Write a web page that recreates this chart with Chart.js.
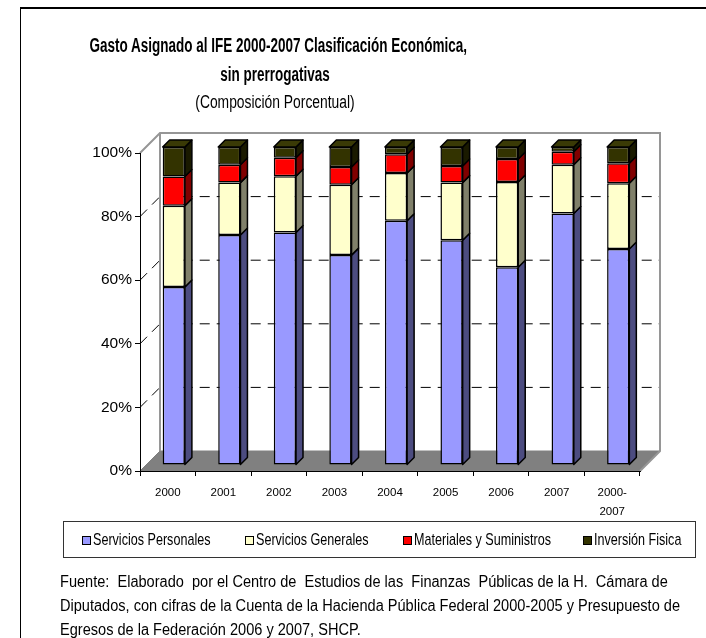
<!DOCTYPE html>
<html>
<head>
<meta charset="utf-8">
<script src="https://cdn.jsdelivr.net/npm/chart.js@4.4.0/dist/chart.umd.min.js"></script>
<style>
  body { margin: 0; background: #fff; }
  #wrap { position: relative; width: 706px; height: 638px; overflow: hidden; font-family: "Liberation Sans", Arial, sans-serif; color: #000; }
  #frame { position: absolute; left: 20px; top: 7px; width: 700px; height: 700px; border-left: 1.5px solid #000; border-top: 2px solid #000; }
  canvas { position: absolute; left: 0; top: 0; }
  .t { position: absolute; left: 0; width: 550px; text-align: center; white-space: nowrap; transform-origin: 275px 0; }
  #legend { position: absolute; left: 63px; top: 521px; width: 631px; height: 35px; border: 1px solid #333; }
  .item { position: absolute; top: 8px; font-size: 17px; line-height: 19px; white-space: nowrap; }
  .item i { position: absolute; left: 0; top: 6px; width: 7px; height: 7px; border: 1px solid #000; }
  .item span { position: absolute; left: 11px; top: 0; transform: scaleX(0.74); transform-origin: 0 0; }
  .note { position: absolute; left: 60px; font-size: 16px; line-height: 18px; white-space: pre; transform: scaleX(0.91); transform-origin: 0 0; }
</style>
</head>
<body>
<div id="wrap">
  <div id="frame"></div>
  <canvas id="chart" width="706" height="638"></canvas>
  <div class="t" style="top:34px;font-size:20px;font-weight:bold;transform:scaleX(0.675)">Gasto Asignado al IFE 2000-2007 Clasificación Económica,</div>
  <div class="t" style="top:63px;font-size:20px;font-weight:bold;transform:scaleX(0.675)">sin prerrogativas</div>
  <div class="t" style="top:92px;font-size:18px;transform:scaleX(0.77)">(Composición Porcentual)</div>
  <div id="legend"></div>
  <div class="note" style="top:573px">Fuente:  Elaborado  por el Centro de  Estudios de las  Finanzas  Públicas de la H.  Cámara de</div>
  <div class="note" style="top:597px">Diputados, con cifras de la Cuenta de la Hacienda Pública Federal 2000-2005 y Presupuesto de</div>
  <div class="note" style="top:621px">Egresos de la Federación 2006 y 2007, SHCP.</div>
</div>
<script>
const years = ["2000", "2001", "2002", "2003", "2004", "2005", "2006", "2007", ["2000-", "2007"]];
const seriesNames = ["Servicios Personales", "Servicios Generales", "Materiales y Suministros", "Inversión Fisica"];
const serviciosPersonales = [56.0, 72.3, 73.1, 66.0, 76.8, 70.7, 62.2, 79.1, 67.9];
const serviciosGenerales = [25.5, 16.5, 17.7, 22.1, 15.0, 18.1, 26.8, 15.3, 20.7];
const materiales = [9.2, 5.6, 5.8, 5.6, 5.9, 5.2, 7.2, 4.1, 6.3];
const inversion = [9.3, 5.6, 3.4, 6.3, 2.3, 6.0, 3.8, 1.5, 5.1];
const yTicks = [0, 20, 40, 60, 80, 100];

const frontColors = ["#9999ff", "#ffffcc", "#ff0000", "#333300"];
const sideColors = ["#4c4c80", "#80806a", "#800000", "#1a1a00"];
const topColor = "#3a3a06";

const WALL = 20;   // depth of the back wall
const BAR_OFF = 6; // front face of bars
const BAR_D = 7;   // bar depth

// legend in html
const legendX = [18, 181, 339, 519];
const legend = document.getElementById("legend");
seriesNames.forEach((name, i) => {
  const d = document.createElement("div");
  d.className = "item";
  d.style.left = legendX[i] + "px";
  d.innerHTML = '<i style="background:' + frontColors[i] + '"></i><span>' + name + '</span>';
  legend.appendChild(d);
});

const poly = (ctx, pts, fill) => {
  ctx.beginPath();
  ctx.moveTo(pts[0][0], pts[0][1]);
  for (let i = 1; i < pts.length; i++) ctx.lineTo(pts[i][0], pts[i][1]);
  ctx.closePath();
  if (fill) { ctx.fillStyle = fill; ctx.fill(); }
  ctx.stroke();
};

const walls3d = {
  id: "walls3d",
  beforeDraw(chart) {
    const { ctx, chartArea: a, scales } = chart;
    const y = scales.y;
    ctx.save();
    // floor
    ctx.strokeStyle = "#808080";
    ctx.lineWidth = 1;
    poly(ctx, [[a.left, a.bottom], [a.right, a.bottom], [a.right + WALL, a.bottom - WALL], [a.left + WALL, a.bottom - WALL]], "#808080");
    // grid lines on back wall and side wall
    ctx.strokeStyle = "#000";
    ctx.setLineDash([10, 7]);
    yTicks.slice(1, -1).forEach(v => {
      const py = y.getPixelForValue(v);
      ctx.beginPath();
      ctx.moveTo(a.left, py);
      ctx.lineTo(a.left + WALL, py - WALL);
      ctx.lineTo(a.right + WALL, py - WALL);
      ctx.stroke();
    });
    ctx.setLineDash([]);
    // wall edges
    ctx.strokeStyle = "#969696";
    ctx.lineWidth = 2;
    ctx.beginPath();
    ctx.moveTo(a.left, a.top);
    ctx.lineTo(a.left + WALL, a.top - WALL);
    ctx.lineTo(a.right + WALL, a.top - WALL);
    ctx.lineTo(a.right + WALL, a.bottom - WALL);
    ctx.lineTo(a.right, a.bottom);
    ctx.moveTo(a.left + WALL, a.top - WALL);
    ctx.lineTo(a.left + WALL, a.bottom - WALL);
    ctx.stroke();
    ctx.restore();
  },
  beforeDatasetsDraw(chart) {
    chart.ctx.save();
    chart.ctx.translate(BAR_OFF, -BAR_OFF);
  },
  afterDatasetsDraw(chart) {
    const ctx = chart.ctx;
    ctx.strokeStyle = "#000";
    ctx.lineWidth = 1.5;
    ctx.lineJoin = "round";
    chart.data.datasets.forEach((ds, di) => {
      chart.getDatasetMeta(di).data.forEach(el => {
        const r = el.x + el.width / 2, l = el.x - el.width / 2;
        poly(ctx, [[r, el.y], [r + BAR_D, el.y - BAR_D], [r + BAR_D, el.base - BAR_D], [r, el.base]], sideColors[di]);
        if (di === chart.data.datasets.length - 1) {
          poly(ctx, [[l, el.y], [l + BAR_D, el.y - BAR_D], [r + BAR_D, el.y - BAR_D], [r, el.y]], topColor);
        }
      });
    });
    ctx.restore();
  }
};

const values = [serviciosPersonales, serviciosGenerales, materiales, inversion];

new Chart(document.getElementById("chart"), {
  type: "bar",
  data: {
    labels: years,
    datasets: seriesNames.map((name, i) => ({
      label: name,
      data: values[i],
      backgroundColor: frontColors[i],
      borderColor: "#000",
      borderWidth: 1.5,
      borderSkipped: false,
      categoryPercentage: 1,
      barPercentage: 0.4,
      clip: false,
    })),
  },
  options: {
    responsive: false,
    animation: false,
    layout: { padding: { left: 0, top: 153, right: 66, bottom: 0 } },
    plugins: { legend: { display: false }, tooltip: { enabled: false } },
    scales: {
      x: {
        stacked: true,
        afterFit: (s) => { s.height = 167; },
        grid: { drawOnChartArea: false, color: "#000", tickLength: 5, offset: true },
        border: { color: "#000", width: 1 },
        ticks: { color: "#000", font: { family: "Liberation Sans", size: 11.5, lineHeight: 1.65 }, padding: 7, autoSkip: false, maxRotation: 0 },
      },
      y: {
        stacked: true,
        min: 0,
        max: 100,
        afterFit: (s) => { s.width = 140; },
        afterBuildTicks: (s) => { s.ticks = yTicks.map(v => ({ value: v })); },
        grid: { drawOnChartArea: false, color: "#000", tickLength: 5 },
        border: { color: "#000", width: 1 },
        ticks: { color: "#000", font: { family: "Liberation Sans", size: 15.5 }, padding: 3, callback: (v) => v + "%" },
      },
    },
  },
  plugins: [walls3d],
});
</script>
</body>
</html>
